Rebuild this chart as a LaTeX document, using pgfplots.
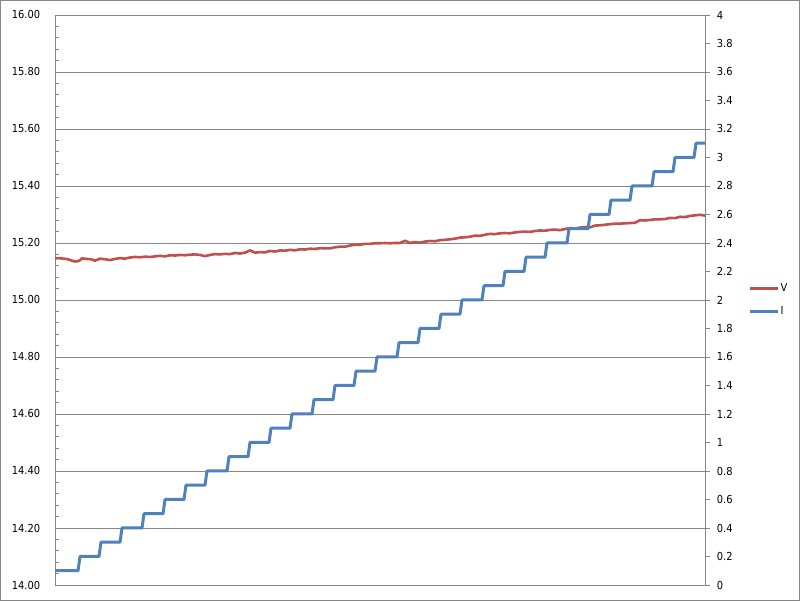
\documentclass[border=0pt]{standalone}
\usepackage{pgfplots}
\pgfplotsset{compat=1.18}
\usepackage{fontspec}
\setmainfont{DejaVu Sans Condensed}
\definecolor{vred}{HTML}{C0504D}
\definecolor{iblue}{HTML}{4F81BD}
\definecolor{gridgray}{HTML}{868686}
\begin{document}
\fontsize{11pt}{13pt}\selectfont
\begin{tikzpicture}
\path[use as bounding box] (0,0) rectangle (800pt,601pt);
\fill[white] (0,0) rectangle (800pt,601pt);
\draw[gridgray, line width=1pt] (0.5pt,0.5pt) rectangle (799.5pt,600.5pt);
\begin{axis}[
  at={(55pt,16pt)}, anchor=south west,
  scale only axis, width=650pt, height=570pt,
  xmin=0, xmax=650, ymin=14, ymax=16,
  axis y line*=left, axis x line*=bottom,
  axis line style={gridgray, line width=0.8pt},
  xtick=\empty,
  ytick={14,14.2,14.4,14.6,14.8,15,15.2,15.4,15.6,15.8,16},
  minor y tick num=4,
  ymajorgrids, major grid style={gridgray, line width=0.8pt},
  tick style={gridgray, line width=0.8pt},
  major tick length=0pt, minor tick length=4pt,
  tick align=inside,
  yticklabel style={/pgf/number format/fixed, /pgf/number format/fixed zerofill, /pgf/number format/precision=2, /pgf/number format/assume math mode=true},
  yticklabel style={font=\fontsize{11pt}{13pt}\selectfont, xshift=-11pt},
  clip=false,
]
\addplot[vred, line width=2.6pt, line join=round] coordinates {
(0,15.146) (4,15.147) (8,15.145) (12,15.144) (16,15.139) (20,15.135) (24,15.137) (27,15.146) (32,15.144) (36,15.143) (40,15.138) (45,15.145) (50,15.143) (55,15.140) (60,15.144) (65,15.147) (70,15.145) (75,15.149) (80,15.151) (85,15.150) (90,15.152) (95,15.151) (100,15.153) (105,15.155) (110,15.153) (115,15.157) (120,15.156) (125,15.158) (130,15.157) (135,15.159) (140,15.160) (145,15.158) (150,15.154) (155,15.158) (160,15.161) (165,15.160) (170,15.162) (175,15.161) (180,15.165) (185,15.163) (190,15.166) (195,15.174) (200,15.166) (205,15.168) (210,15.167) (215,15.172) (220,15.170) (225,15.174) (230,15.173) (235,15.176) (240,15.174) (245,15.178) (250,15.177) (255,15.180) (260,15.179) (265,15.182) (270,15.181) (275,15.181) (280,15.185) (285,15.187) (290,15.187) (295,15.191) (300,15.194) (305,15.194) (310,15.197) (315,15.197) (320,15.199) (325,15.199) (330,15.200) (335,15.199) (340,15.200) (345,15.200) (350,15.208) (355,15.200) (360,15.203) (365,15.201) (370,15.205) (375,15.207) (380,15.206) (385,15.210) (390,15.211) (395,15.213) (400,15.215) (405,15.219) (410,15.220) (415,15.222) (420,15.226) (425,15.225) (430,15.229) (435,15.232) (440,15.231) (445,15.234) (450,15.235) (455,15.234) (460,15.237) (465,15.239) (470,15.240) (475,15.239) (480,15.242) (485,15.244) (490,15.243) (495,15.246) (500,15.247) (505,15.245) (510,15.249) (515,15.252) (520,15.251) (525,15.254) (530,15.256) (535,15.255) (540,15.261) (545,15.262) (550,15.264) (555,15.266) (560,15.268) (565,15.268) (570,15.269) (575,15.270) (580,15.271) (585,15.280) (590,15.279) (595,15.281) (600,15.283) (605,15.283) (610,15.284) (615,15.288) (620,15.287) (625,15.292) (630,15.291) (635,15.295) (640,15.297) (645,15.299) (650,15.296)
};
\end{axis}
\begin{axis}[
  at={(55pt,16pt)}, anchor=south west,
  scale only axis, width=650pt, height=570pt,
  xmin=0, xmax=650, ymin=0, ymax=4,
  axis y line*=right, axis x line=none,
  axis line style={gridgray, line width=0.8pt},
  ytick={0,0.2,0.4,0.6,0.8,1,1.2,1.4,1.6,1.8,2,2.2,2.4,2.6,2.8,3,3.2,3.4,3.6,3.8,4},
  tick style={gridgray, line width=0.8pt},
  major tick length=5pt, tick align=outside,
  yticklabel style={/pgf/number format/fixed, /pgf/number format/precision=1, /pgf/number format/assume math mode=true},
  yticklabel style={font=\fontsize{11pt}{13pt}\selectfont, xshift=3pt},
  clip=false,
  legend cell align=left,
  legend style={draw=none, fill=none, at={(1.066,0.5)}, anchor=west,
    inner sep=0pt, row sep=10pt, font=\fontsize{11pt}{13pt}\selectfont,
    nodes={inner sep=1.5pt}},
  legend image code/.code={\draw[#1] (0pt,0pt) -- (28pt,0pt);},
]
\addlegendimage{vred, line width=2.6pt}
\addlegendentry{V}
\addplot[iblue, line width=3pt, line join=round] coordinates {
(0,0.1) (23,0.1) (25,0.2) (44,0.2) (46,0.3) (65,0.3) (67,0.4) (87,0.4) (89,0.5) (108,0.5) (110,0.6) (129,0.6) (131,0.7) (150,0.7) (152,0.8) (172,0.8) (174,0.9) (193,0.9) (195,1.0) (214,1.0) (216,1.1) (235,1.1) (237,1.2) (257,1.2) (259,1.3) (278,1.3) (280,1.4) (299,1.4) (301,1.5) (320,1.5) (322,1.6) (342,1.6) (344,1.7) (363,1.7) (365,1.8) (384,1.8) (386,1.9) (405,1.9) (407,2.0) (427,2.0) (429,2.1) (448,2.1) (450,2.2) (469,2.2) (471,2.3) (490,2.3) (492,2.4) (512,2.4) (514,2.5) (533,2.5) (535,2.6) (554,2.6) (556,2.7) (575,2.7) (577,2.8) (597,2.8) (599,2.9) (618,2.9) (620,3.0) (639,3.0) (641,3.1) (650,3.1)
};
\addlegendentry{I}
\end{axis}
\end{tikzpicture}
\end{document}
